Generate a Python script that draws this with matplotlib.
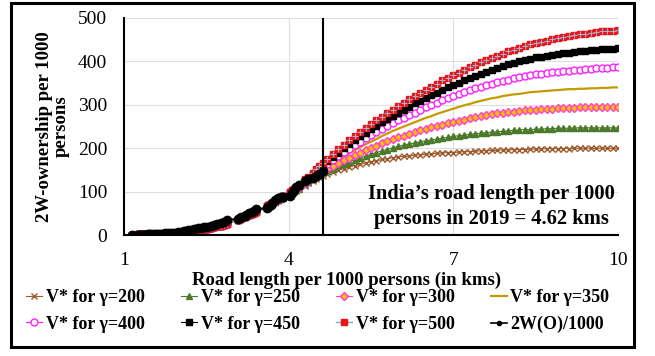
import numpy as np
import matplotlib
matplotlib.use("Agg")
import matplotlib.pyplot as plt
from matplotlib.patches import Rectangle
from matplotlib.lines import Line2D

plt.rcParams['font.family'] = ['Liberation Serif', 'DejaVu Serif']

# Observed India series: road length per 1000 persons (km) and 2W ownership per 1000 persons
road_km = [1.15, 1.25, 1.28, 1.31, 1.34, 1.37, 1.40, 1.43, 1.46, 1.50, 1.54, 1.58,
           1.62, 1.66, 1.70, 1.75, 1.80, 1.86, 1.92, 1.98, 2.04, 2.10, 2.16, 2.22,
           2.28, 2.34, 2.40, 2.46, 2.52, 2.58, 2.64, 2.70, 2.76, 2.82, 2.87, 3.08,
           3.11, 3.14, 3.20, 3.23, 3.27, 3.33, 3.37, 3.41, 3.60, 3.63, 3.67, 3.70,
           3.76, 3.81, 3.86, 3.90, 4.03, 4.06, 4.10, 4.14, 4.18, 4.30, 4.36, 4.44,
           4.50, 4.56, 4.62]
tw_obs = [0, 0, 0.3, 0.5, 0.7, 0.9, 1.0, 1.2, 1.4, 1.6, 1.9, 2.2, 2.5, 2.9, 3.2,
          3.6, 4.1, 4.8, 5.6, 6.8, 8.0, 9.5, 11, 12, 13.5, 15, 16, 17.5, 19.5, 21.5,
          23.5, 26, 28.5, 31, 34, 38, 39, 41, 44, 47, 50, 53, 56, 59, 62, 65, 70,
          74, 80, 85, 87, 88, 91, 96, 103, 110, 115, 124, 128, 132, 136, 140, 147]

# Projection grid beyond the 2019 road length
proj_km = [round(v, 1) for v in np.arange(4.7, 10.05, 0.1)]

# V* values common to every gamma for the low road-length range (x <= 3.41)
v_low = [1.0, 1.2, 1.3, 1.4, 1.5, 1.6, 1.7, 1.8, 1.9, 2.0, 2.2, 2.4, 2.6, 2.8, 3.0,
         3.3, 3.6, 4.1, 4.6, 5.2, 5.9, 6.7, 7.5, 8.4, 9.4, 10.5, 11.7, 13.0, 14.4,
         16.0, 17.7, 19.6, 21.6, 23.8, 25.8, 35.5, 37, 38.6, 41.8, 43.4, 45.7, 49.2,
         51.6, 54]

# V* per gamma: observed x from 3.60 to 4.62, then the projection grid 4.7 .. 10.0
v200 = [65, 67, 69, 71, 75, 79, 82, 85, 94, 96, 99, 102, 105, 114, 119, 125, 129, 133, 137,
        141, 145, 149, 153, 157, 160, 163, 166, 169, 171, 174, 176, 178, 180, 181, 182,
        184, 185, 186, 187, 188, 189, 190, 190, 191, 192, 192, 193, 194, 194, 195, 195,
        196, 196, 197, 197, 197, 198, 198, 198, 199, 199, 199, 199, 199, 200, 200, 200,
        200, 200, 200, 200, 200, 200]
v250 = [65, 67, 70, 72, 76, 80, 83, 86, 95, 98, 101, 104, 107, 117, 122, 128, 133, 137, 142,
        147, 153, 158, 163, 168, 173, 177, 182, 186, 190, 194, 197, 201, 204, 207, 210,
        212, 215, 217, 219, 221, 223, 225, 227, 229, 230, 232, 233, 235, 236, 237, 238,
        239, 240, 241, 242, 243, 243, 244, 244, 245, 245, 246, 246, 246, 247, 247, 247,
        247, 247, 247, 247, 247, 247]
v300 = [66, 68, 70, 72, 77, 80, 84, 87, 96, 99, 102, 106, 109, 119, 124, 131, 136, 141, 147,
        153, 160, 166, 172, 178, 184, 190, 196, 201, 206, 211, 216, 221, 225, 229, 233,
        237, 241, 245, 248, 251, 254, 257, 260, 263, 266, 269, 271, 274, 276, 278, 280,
        282, 283, 284, 285, 287, 288, 289, 290, 290, 291, 292, 292, 293, 293, 294, 294,
        294, 295, 295, 295, 296, 296]
v350 = [66, 68, 71, 73, 77, 81, 85, 88, 97, 100, 104, 107, 111, 122, 127, 134, 139, 145, 152,
        158, 166, 174, 181, 188, 195, 202, 209, 215, 221, 228, 234, 240, 245, 250, 255,
        260, 265, 270, 274, 279, 283, 287, 291, 295, 299, 302, 306, 309, 312, 315, 317,
        320, 322, 324, 325, 327, 329, 330, 331, 332, 333, 334, 335, 336, 336, 337, 337,
        338, 338, 339, 339, 340, 340]
v400 = [66, 68, 71, 73, 78, 82, 86, 89, 98, 101, 105, 109, 113, 124, 130, 137, 143, 149, 157,
        164, 173, 182, 191, 199, 207, 215, 223, 230, 237, 244, 251, 258, 264, 270, 276,
        282, 288, 294, 299, 305, 310, 315, 320, 325, 329, 334, 338, 342, 345, 349, 352,
        355, 358, 361, 363, 366, 368, 370, 372, 373, 375, 376, 378, 379, 380, 381, 382,
        383, 384, 384, 385, 386, 386]
v450 = [67, 69, 72, 74, 78, 82, 86, 89, 99, 102, 106, 110, 114, 126, 132, 140, 146, 153, 162,
        170, 180, 190, 200, 209, 218, 227, 236, 244, 252, 260, 267, 275, 282, 289, 296,
        303, 309, 316, 322, 328, 334, 340, 345, 350, 356, 361, 366, 371, 376, 380, 385,
        389, 393, 396, 400, 403, 406, 409, 411, 413, 415, 417, 419, 420, 422, 423, 425,
        426, 427, 428, 429, 429, 430]
v500 = [67, 69, 72, 74, 79, 83, 87, 90, 100, 103, 107, 111, 115, 128, 134, 143, 152, 160, 167,
        176, 187, 198, 208, 218, 228, 237, 246, 255, 264, 273, 281, 289, 297, 305, 313,
        320, 328, 335, 342, 349, 356, 362, 368, 374, 380, 386, 392, 398, 403, 408, 413,
        418, 423, 427, 431, 435, 439, 442, 445, 448, 451, 453, 456, 458, 460, 462, 464,
        466, 468, 469, 470, 471, 472]

india_2019_km = 4.62

x_star = np.array(road_km + proj_km)

fig = plt.figure(figsize=(6.55, 3.56), dpi=100)
ax = fig.add_axes([124 / 655, 1 - 235 / 356, (618 - 124) / 655, (235 - 18) / 356])

series = [
    ("V* for \u03b3=200", v200, dict(color="#9c5a2b", marker="x", ms=4, mew=1.0, lw=0.8)),
    ("V* for \u03b3=250", v250, dict(color="#4b7a2a", marker="^", ms=4, lw=0.8)),
    ("V* for \u03b3=300", v300, dict(color="#ff3fd0", marker="D", ms=4, mfc="#ffc000",
                                      mec="#ff3fd0", mew=1.0, lw=0.8)),
    ("V* for \u03b3=350", v350, dict(color="#c49a00", marker=None, lw=1.6)),
    ("V* for \u03b3=400", v400, dict(color="#ff1fff", marker="o", ms=5, mfc="white",
                                      mec="#ff1fff", mew=1.0, lw=0.8)),
    ("V* for \u03b3=450", v450, dict(color="black", marker="s", ms=4, lw=0.8)),
    ("V* for \u03b3=500", v500, dict(color="#7fa6d6", marker="s", ms=4.8, mfc="#ee1111",
                                      mec="#ee1111", lw=1.0)),
]

handles = []
for label, vals, style in series:
    y = np.array(v_low + vals, dtype=float)
    ax.plot(x_star, y, **style, zorder=3)
    if label.endswith("500"):
        ax.plot(x_star, y, ls="none", marker="+", ms=4.8, mew=0.8,
                color="#9db4d8", zorder=3.1)
    handles.append(Line2D([], [], **style, label=label))

obs_style = dict(color="black", marker="o", ms=6, lw=1.4)
ax.plot(road_km, tw_obs, **obs_style, zorder=4)
handles.append(Line2D([], [], color="black", marker="o", ms=3, lw=1.2, label="2W(O)/1000"))

# 2019 marker line
ax.plot([india_2019_km, india_2019_km], [0, 500], color="black", lw=1.5, zorder=5)

ax.set_xlim(1, 10)
ax.set_ylim(0, 500)
ax.set_xticks([1, 4, 7, 10])
ax.set_yticks([0, 100, 200, 300, 400, 500])
ax.grid(True, color="#dedede", lw=0.8, zorder=0)
ax.set_axisbelow(True)
for side in ("top", "right"):
    ax.spines[side].set_visible(False)
for side in ("left", "bottom"):
    ax.spines[side].set_color("black")
    ax.spines[side].set_linewidth(1.5)
    ax.spines[side].set_zorder(6)
ax.tick_params(axis="both", length=0, labelsize=14)
ax.tick_params(axis="x", pad=12)
ax.tick_params(axis="y", pad=12)

ax.set_xlabel("Road length per 1000 persons (in kms)", fontsize=13.5,
              fontweight="bold", labelpad=0)
ax.xaxis.set_label_coords(0.45, -0.17)
ax.set_ylabel("2W-ownership per 1000\npersons", fontsize=13.5, fontweight="bold",
              linespacing=0.95, labelpad=6)

ax.text(0.743, 0.13, "India\u2019s road length per 1000\npersons in 2019 = 4.62 kms",
        transform=ax.transAxes, ha="center", va="center", fontsize=14.8,
        fontweight="bold", linespacing=1.35, zorder=7)

# two legend rows filled left to right
ncol = 4
order = [i + r * ncol for i in range(ncol) for r in range(2)]
fig.legend(handles=[handles[i] for i in order], loc="center", ncol=ncol, frameon=False,
           bbox_to_anchor=(0.485, 1 - 311 / 356), prop=dict(weight="bold", size=13),
           handlelength=0.9, handletextpad=0.2, columnspacing=2.0,
           labelspacing=0.55, borderaxespad=0)

fig.patches.append(Rectangle((11 / 655, 1 - 347 / 356), (634 - 11) / 655, (347 - 3) / 356,
                             transform=fig.transFigure, fill=False, lw=2.2,
                             ec="black", zorder=10))

fig.savefig("out.png", dpi=100)
